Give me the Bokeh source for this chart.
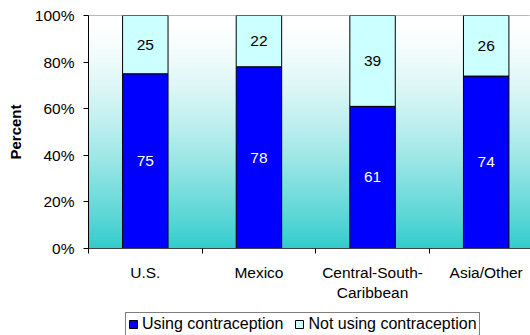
import numpy as np
from bokeh.plotting import figure
from bokeh.layouts import column
from bokeh.models import (Range1d, FixedTicker, PrintfTickFormatter, Legend,
                          LegendItem, ColumnDataSource)
from bokeh.embed import file_html
from bokeh.resources import INLINE
from bokeh.core.properties import value

# ---- data ----
categories = ["U.S.", "Mexico", "Central-South-\nCaribbean", "Asia/Other"]
using = [75, 78, 61, 74]
not_using = [25, 22, 39, 26]
y_ticks = [0, 20, 40, 60, 80, 100]
series_names = ["Using contraception", "Not using contraception"]
series_colors = ["#0000FF", "#CCFFFF"]

FONT = "Liberation Sans"
FS = "15.5px"

x = [i + 0.5 for i in range(len(categories))]
tops = [u + n for u, n in zip(using, not_using)]
src = ColumnDataSource(dict(
    x=x, using=using, top=tops,
    using_mid=[u / 2 for u in using],
    not_mid=[u + n / 2 for u, n in zip(using, not_using)],
    using_lbl=[str(v) for v in using],
    not_lbl=[str(v) for v in not_using],
))

x_end = 3.89
p = figure(width=530, height=305, output_backend="svg", toolbar_location=None,
           x_range=Range1d(0, x_end), y_range=Range1d(0, 100),
           min_border_left=88, min_border_right=0, min_border_top=15,
           min_border_bottom=57)
p.background_fill_color = "white"
p.border_fill_color = "white"
p.outline_line_color = "#A0A0A0"
p.xgrid.visible = False
p.ygrid.visible = False

# gradient background (white at top -> teal at bottom)
N = 240
img = np.empty((N, 1), dtype=np.uint32)
view = img.view(dtype=np.uint8).reshape((N, 1, 4))
rows = np.arange(N)
t = 1 - (rows + 0.5) / N
f = t ** 1.5
top_c = np.array([255, 255, 255])
bot_c = np.array([51, 204, 204])
for k in range(3):
    view[:, 0, k] = np.round(top_c[k] * (1 - f) + bot_c[k] * f).astype(np.uint8)
view[:, 0, 3] = 255
p.image_rgba(image=[img], x=0, y=0, dw=x_end, dh=100)

p.vbar(x="x", width=0.4, bottom=0, top="using", source=src,
       fill_color=series_colors[0], line_color="black", line_width=1)
p.vbar(x="x", width=0.4, bottom="using", top="top", source=src,
       fill_color=series_colors[1], line_color="black", line_width=1)

p.text(x="x", y="using_mid", text="using_lbl", source=src, text_color="white",
       text_align="center", text_baseline="middle",
       text_font=value(FONT), text_font_size=FS)
p.text(x="x", y="not_mid", text="not_lbl", source=src, text_color="black",
       text_align="center", text_baseline="middle",
       text_font=value(FONT), text_font_size=FS)

# x axis
p.xaxis.ticker = FixedTicker(ticks=x, minor_ticks=list(range(len(categories) + 1)))
p.xaxis.major_label_overrides = {xi: c for xi, c in zip(x, categories)}
p.xaxis.major_tick_line_color = None
p.xaxis.major_tick_out = 5
p.xaxis.major_tick_in = 0
p.xaxis.minor_tick_line_color = "black"
p.xaxis.minor_tick_out = 5
p.xaxis.minor_tick_in = 0
p.xaxis.axis_line_color = "#404040"
p.xaxis.major_label_standoff = 10
p.xaxis.major_label_text_font = FONT
p.xaxis.major_label_text_font_size = FS
p.xaxis.major_label_text_color = "black"

# y axis
p.yaxis.ticker = FixedTicker(ticks=y_ticks, minor_ticks=[])
p.yaxis.formatter = PrintfTickFormatter(format="%d%%")
p.yaxis.major_tick_out = 5
p.yaxis.major_tick_in = 0
p.yaxis.major_tick_line_color = "black"
p.yaxis.axis_line_color = "black"
p.yaxis.major_label_standoff = 9
p.yaxis.major_label_text_font = FONT
p.yaxis.major_label_text_font_size = FS
p.yaxis.major_label_text_color = "black"
p.yaxis.axis_label = "Percent"
p.yaxis.axis_label_text_font = FONT
p.yaxis.axis_label_text_font_size = "15px"
p.yaxis.axis_label_text_font_style = "bold"
p.yaxis.axis_label_text_color = "black"
p.yaxis.axis_label_standoff = 8

# legend strip (separate figure below the chart; its bars lie out of view)
lg = figure(width=530, height=30, output_backend="svg", toolbar_location=None,
            x_range=Range1d(-20, -10), y_range=Range1d(-20, -10),
            x_axis_type=None, y_axis_type=None,
            min_border_left=88, min_border_right=0, min_border_top=0,
            min_border_bottom=0)
lg.outline_line_color = None
lg.xgrid.visible = False
lg.ygrid.visible = False
lr1 = lg.vbar(x="x", width=0.4, bottom=0, top="using", source=src,
              fill_color=series_colors[0], line_color="black")
lr2 = lg.vbar(x="x", width=0.4, bottom="using", top="top", source=src,
              fill_color=series_colors[1], line_color="black")

legend = Legend(
    items=[LegendItem(label=series_names[0], renderers=[lr1]),
           LegendItem(label=series_names[1], renderers=[lr2])],
    orientation="horizontal", location=(37, -1),
    glyph_width=10, glyph_height=10, label_standoff=4, spacing=11,
    padding=2, margin=0, label_height=16,
    border_line_color="black", border_line_width=1,
    background_fill_color="white", background_fill_alpha=1,
    label_text_font=FONT, label_text_font_size="16px", label_text_color="black",
)
lg.add_layout(legend, "center")

layout = column(p, lg, spacing=0)
open("out.html", "w").write(file_html(layout, INLINE))
